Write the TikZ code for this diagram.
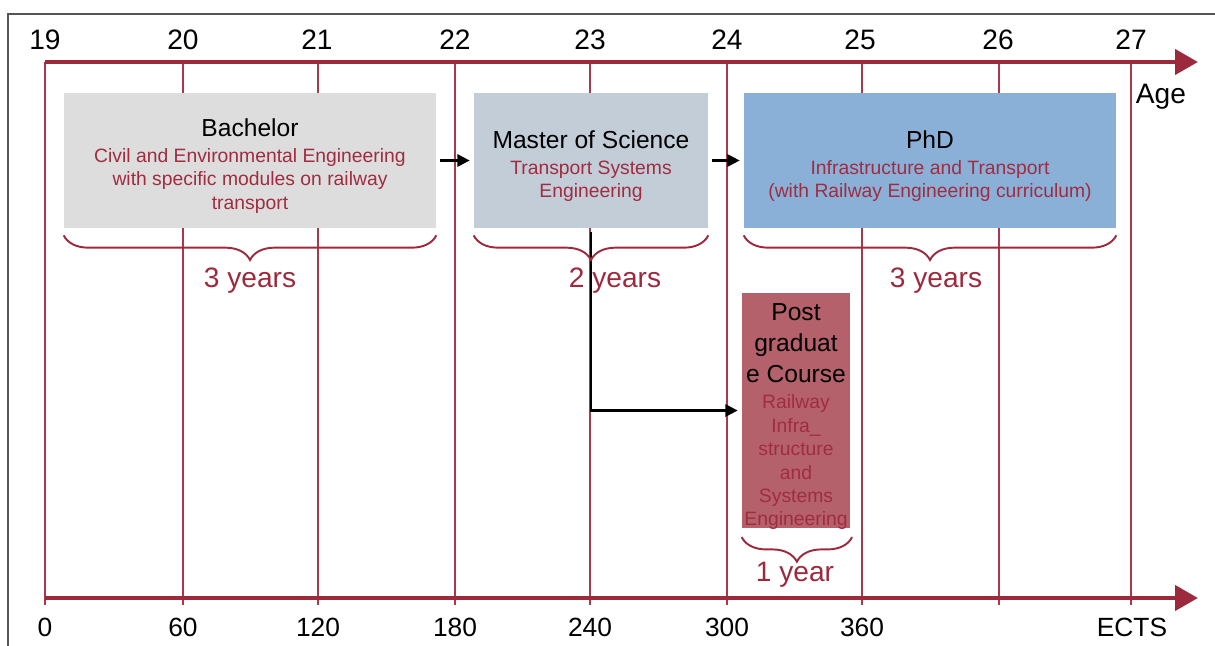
\documentclass[tikz,border=0pt]{standalone}
\usepackage{fontspec}
\setmainfont{Liberation Sans}
\usetikzlibrary{arrows.meta,decorations.pathreplacing}

\definecolor{axisred}{RGB}{157,41,61}
\definecolor{tickred}{RGB}{168,56,74}
\definecolor{subred}{RGB}{160,44,64}
\definecolor{bachgray}{RGB}{221,221,221}
\definecolor{mscgray}{RGB}{195,205,216}
\definecolor{phdblue}{RGB}{139,176,216}
\definecolor{pgcrose}{RGB}{181,97,108}
\definecolor{framegray}{RGB}{85,85,85}

\newcommand{\subln}[1]{{\color{subred}\fontsize{11}{13.3}\selectfont #1}}
\newcommand{\titlestrut}{\rule{0pt}{14.2pt}}

\tikzset{
  timeaxis/.style={line width=2.8pt, color=axisred, -{Triangle[length=13pt,width=14pt]}},
  agetick/.style={line width=0.8pt, color=tickred},
  degbox/.style={inner sep=0pt, align=center, text depth=0pt, font=\fontsize{14}{13.3}\selectfont},
  flowarrow/.style={line width=1.3pt, -{Triangle[length=7pt,width=7pt]}, shorten <=2.3pt, shorten >=2.3pt},
  yearbrace/.style={decorate, decoration={brace, mirror, amplitude=14pt}, line width=1.1pt, color=axisred},
  yearlbl/.style={color=axisred, font=\fontsize{16}{19}\selectfont},
  agelbl/.style={font=\fontsize{16}{19}\selectfont},
  ectslbl/.style={font=\fontsize{15}{18}\selectfont}
}

\begin{document}
\begin{tikzpicture}[x=0.02cm, y=-0.02cm]
  \useasboundingbox (0,0) rectangle (1215,646);
  % frame
  \draw[framegray, line width=0.8pt] (8,646) -- (8,14) -- (1215,14);

  % grid of ages
  \foreach \x in {45,183,318,455,590,727,862,999,1131}
    \draw[agetick] (\x,62) -- (\x,605);

  % the two axes
  \coordinate (agestart) at (45,62);
  \coordinate (ageend) at (1198,62);
  \coordinate (ectsstart) at (45,598);
  \coordinate (ectsend) at (1198,598);
  \draw[timeaxis] (agestart) -- (ageend);
  \draw[timeaxis] (ectsstart) -- (ectsend);

  \foreach \x/\a in {45/19,183/20,317/21,455/22,590/23,727/24,860/25,998/26,1131/27}
    \node[agelbl] (age\a) at (\x,40) {\a};
  \node[agelbl] (agename) at (1161,97) {Age};
  \foreach \x/\e in {45/0,183/60,318/120,455/180,590/240,727/300,862/360}
    \node[ectslbl] (ects\e) at (\x,627) {\e};
  \node[ectslbl] (ectsname) at (1132,627) {ECTS};

  % degrees
  \node[degbox, fill=bachgray, minimum width=7.44cm, minimum height=2.7cm] (bach) at (250,160.5)
    {\titlestrut Bachelor\\[1.4pt]\subln{Civil and Environmental Engineering}\\\subln{with specific modules on railway}\\\subln{transport}};
  \node[degbox, fill=mscgray, minimum width=4.68cm, minimum height=2.7cm] (msc) at (591,160.5)
    {\titlestrut Master of Science\\[1.4pt]\subln{Transport Systems}\\\subln{Engineering}};
  \node[degbox, fill=phdblue, minimum width=7.44cm, minimum height=2.7cm] (phd) at (930,160.5)
    {\titlestrut PhD\\[1.4pt]\subln{Infrastructure and Transport}\\\subln{(with Railway Engineering curriculum)}};
  \node[degbox, fill=pgcrose, minimum width=2.16cm, minimum height=4.7cm] (pgc) at (796,410.5)
    {\titlestrut Post\\[4.3pt]graduat\\[4.3pt]e Course\\[2pt]\subln{Railway}\\\subln{Infra\_}\\\subln{structure}\\\subln{and}\\\subln{Systems}\\\subln{Engineering}};

  \draw[flowarrow] (bach) -- (msc);
  \draw[flowarrow] (msc) -- (phd);
  \draw[flowarrow] (msc.south) |- (pgc.west);

  % durations
  \draw[yearbrace] ([yshift=-4pt]bach.south west) -- ([yshift=-4pt]bach.south east);
  \draw[yearbrace] ([yshift=-4pt]msc.south west) -- ([yshift=-4pt]msc.south east);
  \draw[yearbrace] ([yshift=-4pt]phd.south west) -- ([yshift=-4pt]phd.south east);
  \draw[yearbrace] ([yshift=-5pt]pgc.south west) -- ([yshift=-5pt,xshift=1pt]pgc.south east);
  \node[yearlbl] (bachyrs) at (250,281) {3 years};
  \node[yearlbl] (mscyrs) at (615,281) {2 years};
  \node[yearlbl] (phdyrs) at (936,281) {3 years};
  \node[yearlbl] (pgcyrs) at (795,575) {1 year};
\end{tikzpicture}
\end{document}
